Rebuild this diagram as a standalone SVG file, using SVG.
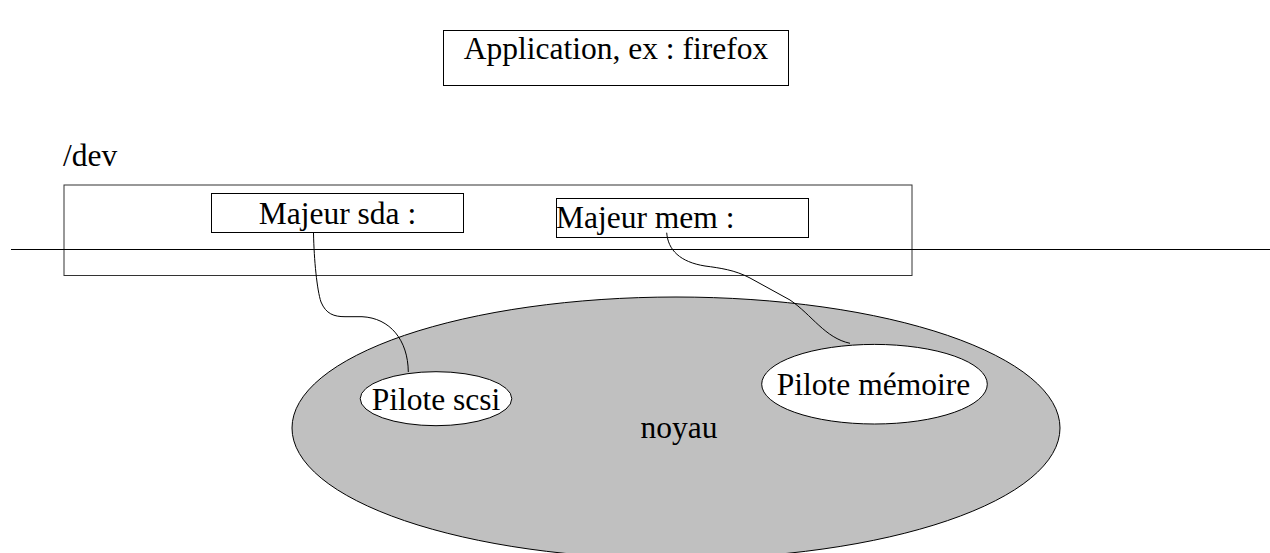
<svg xmlns="http://www.w3.org/2000/svg" width="1270" height="553" viewBox="0 0 1270 553">
<style>
text{font-family:"Liberation Serif","Times New Roman",serif;font-size:31.5px;fill:#000}
.box{fill:#fff;stroke:#000;stroke-width:1}
.frame{fill:none;stroke:#333;stroke-width:1}
.conn{fill:none;stroke:#000;stroke-width:1}
</style>
<rect width="1270" height="553" fill="#fff"/>
<g id="app">
<rect class="box" x="443.5" y="30.5" width="345" height="55" stroke="#333"/>
<text x="616" y="58.5" text-anchor="middle">Application, ex : firefox</text>
</g>
<g id="dev-label">
<text x="63" y="166">/dev</text>
</g>
<g id="dev">
<rect class="frame" x="64" y="185" width="848" height="90.5"/>
</g>
<g id="boundary">
<line class="conn" x1="11" y1="249.5" x2="1270" y2="249.5"/>
</g>
<g id="noyau">
<ellipse cx="676" cy="428" rx="384" ry="131" fill="#c0c0c0" stroke="#000" stroke-width="1"/>
<text x="679" y="438" text-anchor="middle">noyau</text>
</g>
<g id="majeur-sda">
<rect class="box" x="211.5" y="193.5" width="252" height="39"/>
<text x="337.5" y="223.5" text-anchor="middle">Majeur sda :</text>
</g>
<g id="majeur-mem">
<rect class="box" x="556.5" y="198.5" width="252" height="39"/>
<text x="556" y="227.5">Majeur mem :</text>
</g>
<g id="pilote-scsi">
<ellipse cx="436" cy="398.7" rx="75.8" ry="27" fill="#fff" stroke="#000" stroke-width="1"/>
<text x="436" y="409.5" text-anchor="middle">Pilote scsi</text>
</g>
<g id="pilote-memoire">
<ellipse cx="874.5" cy="384.2" rx="112.8" ry="39.8" fill="#fff" stroke="#000" stroke-width="1"/>
<text x="873.5" y="394.5" text-anchor="middle">Pilote mémoire</text>
</g>
<g id="connectors">
<path class="conn" d="M313.5 233 C314 260 317 290 321 302 C326 314 334 316.7 345 316.7 L362 316.7 C390 318 408 340 408.3 372"/>
<path class="conn" d="M666.7 232.7 C668 250 680 262 705 266 C720 268 735 270 750 278 L790 300 C812 315 825 338 850 343.3"/>
</g>
</svg>
